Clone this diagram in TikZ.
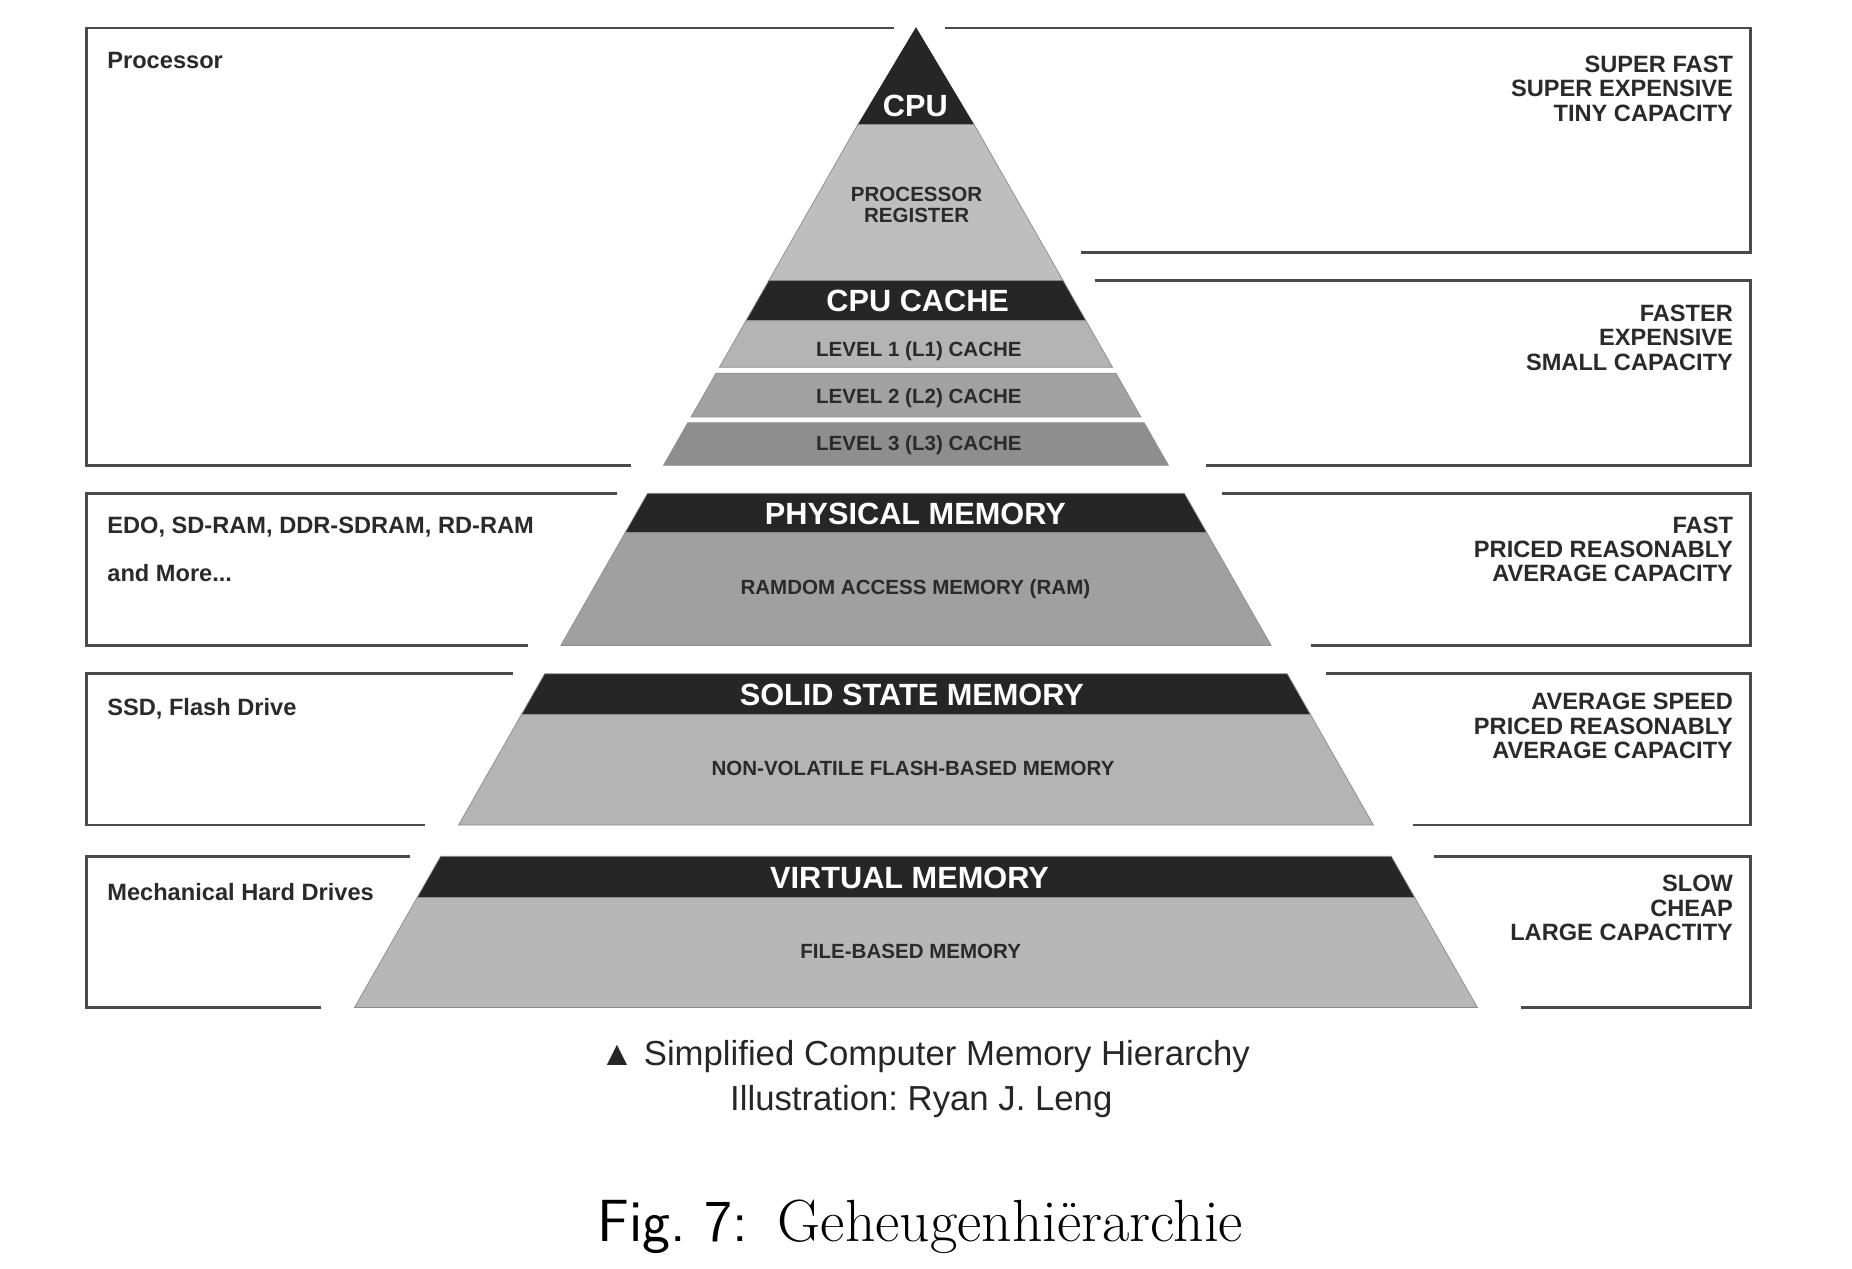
\documentclass[tikz,border=0pt]{standalone}
\usepackage{fontspec}
\newfontfamily\lsans{Liberation Sans}
\frenchspacing
\definecolor{bandc}{HTML}{262626}
\definecolor{regc}{HTML}{BEBEBE}
\definecolor{lonec}{HTML}{B4B4B4}
\definecolor{ltwoc}{HTML}{A2A2A2}
\definecolor{lthreec}{HTML}{8E8E8E}
\definecolor{ramc}{HTML}{A0A0A0}
\definecolor{flashc}{HTML}{B4B4B4}
\definecolor{filec}{HTML}{B7B7B7}
\definecolor{boxc}{HTML}{4A4A4A}
\definecolor{txtc}{HTML}{2A2A2A}
\definecolor{capc}{HTML}{262626}
\newcommand\pyrslice[3]{%
  \pgfmathsetmacro\hwa{0.57*(#1-19)}%
  \pgfmathsetmacro\hwb{0.57*(#2-19)}%
  \filldraw[fill=#3, draw=black!45, line width=0.3pt]
    (775.5-\hwa,#1) -- (775.5+\hwa,#1) -- (775.5+\hwb,#2) -- (775.5-\hwb,#2) -- cycle;}
\begin{document}
\begin{tikzpicture}[x=0.5pt,y=-0.5pt,
  boxline/.style={draw=boxc, line width=1.2pt, line join=miter},
  lefttxt/.style={font=\lsans\bfseries\fontsize{10}{10.25}\selectfont, text=txtc, inner sep=0pt, align=left, anchor=north west},
  righttxt/.style={font=\lsans\bfseries\fontsize{10}{10.25}\selectfont, text=txtc, inner sep=0pt, align=right, anchor=north east},
  whitelab/.style={font=\lsans\bfseries\fontsize{13}{14}\selectfont, text=white, inner sep=0pt, anchor=base},
  graylab/.style={font=\lsans\bfseries\fontsize{8.7}{8.6}\selectfont, text=txtc, inner sep=0pt, align=center},
  captxt/.style={font=\lsans\fontsize{14.7}{17}\selectfont, text=capc, inner sep=0pt, anchor=base},
]
\useasboundingbox (0,0) rectangle (1568,1074);

% ---------- pyramid slices ----------
\fill[bandc] (775.5,23) -- (775.5+0.57*86.5,105.5) -- (775.5-0.57*86.5,105.5) -- cycle;
\pyrslice{105.5}{237.6}{regc}
\pyrslice{237.6}{271.5}{bandc}
\pyrslice{271.5}{311}{lonec}
\pyrslice{316}{353}{ltwoc}
\pyrslice{358}{394}{lthreec}
\pyrslice{417.7}{451}{bandc}
\pyrslice{451}{546.5}{ramc}
\pyrslice{570.5}{605}{bandc}
\pyrslice{605}{698.5}{flashc}
\pyrslice{725}{759.8}{bandc}
\pyrslice{759.8}{853}{filec}

% ---------- bracket boxes ----------
\draw[boxline] (534,394) -- (73,394) -- (73,23.7) -- (757,23.7);
\draw[boxline] (800,23.7) -- (1482,23.7) -- (1482,214) -- (915,214);
\draw[boxline] (927,237.6) -- (1482,237.6) -- (1482,394) -- (1021,394);
\draw[boxline] (522,417.7) -- (73,417.7) -- (73,546.7) -- (447,546.7);
\draw[boxline] (1035,417.7) -- (1482,417.7) -- (1482,546.7) -- (1110,546.7);
\draw[boxline] (434,570.5) -- (73,570.5) -- (73,698.5) -- (360,698.5);
\draw[boxline] (1123,570.5) -- (1482,570.5) -- (1482,698.5) -- (1196,698.5);
\draw[boxline] (347,725) -- (73,725) -- (73,853) -- (272,853);
\draw[boxline] (1214,725) -- (1482,725) -- (1482,853) -- (1288,853);

% ---------- pyramid labels ----------
\node[whitelab] (cpu) at (775,98.8) {CPU};
\node[graylab, anchor=north] (reg) at (776,158.3) {PROCESSOR\\REGISTER};
\node[whitelab] (cache) at (777,264) {CPU CACHE};
\node[graylab, anchor=base] (lone) at (778,302) {LEVEL 1 (L1) CACHE};
\node[graylab, anchor=base] (ltwo) at (778,341.5) {LEVEL 2 (L2) CACHE};
\node[graylab, anchor=base] (lthree) at (778,381) {LEVEL 3 (L3) CACHE};
\node[whitelab] (phys) at (775,444.3) {PHYSICAL MEMORY};
\node[graylab, anchor=base] (ram) at (775,503.3) {RAMDOM ACCESS MEMORY (RAM)};
\node[whitelab] (ssm) at (772,597.3) {SOLID STATE MEMORY};
\node[graylab, anchor=base] (flash) at (773,656.3) {NON-VOLATILE FLASH-BASED MEMORY};
\node[whitelab] (virt) at (770,752.3) {VIRTUAL MEMORY};
\node[graylab, anchor=base] (file) at (771,811.3) {FILE-BASED MEMORY};

% ---------- left texts ----------
\node[lefttxt] (lproc) at (90.5,43.5) {Processor};
\node[lefttxt] (lram) at (90.5,437.2) {EDO, SD-RAM, DDR-SDRAM, RD-RAM\\[10.25pt]and More...};
\node[lefttxt] (lssd) at (90.5,591.1) {SSD, Flash Drive};
\node[lefttxt] (lhdd) at (90.5,747.7) {Mechanical Hard Drives};

% ---------- right texts ----------
\node[righttxt] (rone) at (1467.6,47.2) {SUPER FAST\\SUPER EXPENSIVE\\TINY CAPACITY};
\node[righttxt] (rtwo) at (1467.6,258) {FASTER\\EXPENSIVE\\SMALL CAPACITY};
\node[righttxt] (rthree) at (1467.6,437.2) {FAST\\PRICED REASONABLY\\AVERAGE CAPACITY};
\node[righttxt] (rfour) at (1467.6,586.7) {AVERAGE SPEED\\PRICED REASONABLY\\AVERAGE CAPACITY};
\node[righttxt] (rfive) at (1467.6,740.7) {SLOW\\CHEAP\\LARGE CAPACTITY};

% ---------- captions ----------
\node[captxt] (capone) at (783,902) {▲ Simplified Computer Memory Hierarchy};
\node[captxt] (captwo) at (780,940) {Illustration: Ryan J. Leng};
\node[inner sep=0pt, anchor=base, font=\fontsize{25.2}{30}\selectfont] (fig) at (779,1051)
  {{\sffamily Fig.~7:}\hspace{0.5em}Geheugenhiërarchie};
\end{tikzpicture}
\end{document}
